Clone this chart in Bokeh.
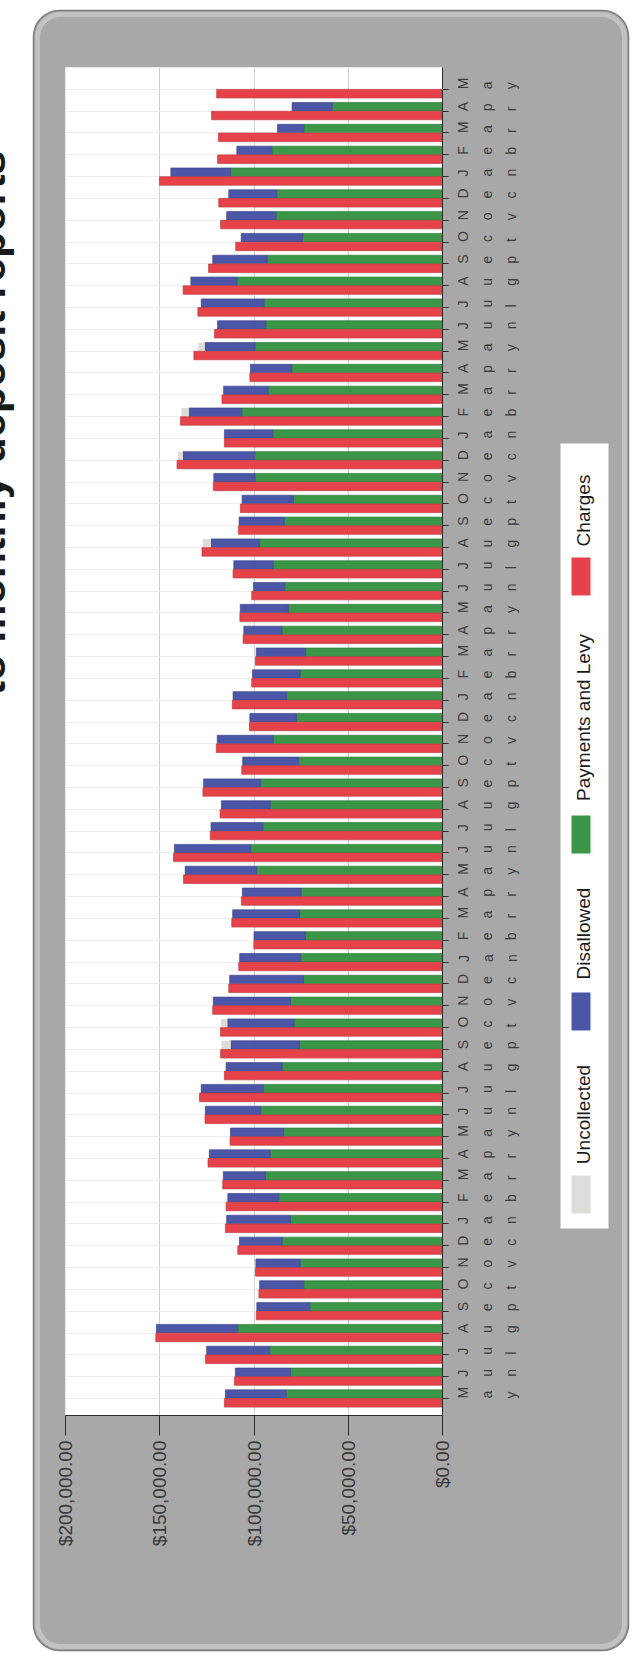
import numpy as np
from math import pi
from bokeh.plotting import figure
from bokeh.models import Range1d, FixedTicker, NumeralTickFormatter
from bokeh.core.properties import value
from bokeh.embed import file_html
from bokeh.resources import INLINE

# ---------------- data ----------------
months = ["May", "Jun", "Jul", "Aug", "Sep", "Oct", "Nov", "Dec", "Jan", "Feb", "Mar", "Apr"] * 5 + ["May"]

charges = [115700, 110400, 125800, 152100, 98800, 97400, 99200, 108600, 115200, 114800, 116600, 124400,
           112700, 126000, 128900, 115700, 117700, 117800, 121900, 113400, 108100, 100100, 111800, 106700,
           137400, 142700, 123200, 118000, 127100, 106500, 120000, 102400, 111500, 101200, 99200, 105800,
           107500, 101200, 111100, 127600, 108300, 107200, 121600, 140800, 115700, 139000, 117000, 102200,
           131900, 121000, 129800, 137600, 124100, 109700, 117700, 118700, 150200, 119300, 118900, 122500,
           119800]

payments = [82900, 80700, 91700, 108600, 70400, 73600, 75400, 85000, 80700, 86800, 93900, 91400,
            84300, 96400, 95100, 85000, 75900, 78800, 80700, 73800, 75200, 72700, 75800, 75000,
            98700, 101700, 95300, 91400, 96500, 76300, 89800, 77500, 82700, 75600, 72600, 85200,
            81800, 83700, 89800, 97100, 83900, 79100, 99400, 99600, 90000, 106500, 92500, 80000,
            99400, 93700, 94600, 109000, 93000, 74200, 88400, 88000, 112500, 90500, 73600, 58500,
            0]

disallowed = [32300, 29200, 33400, 43200, 28100, 23400, 23600, 22700, 33800, 27100, 22400, 32300,
              28200, 29400, 32900, 29800, 36400, 35300, 40900, 39100, 32400, 27300, 35500, 31200,
              37800, 40500, 27500, 25900, 30200, 29700, 29700, 24700, 28400, 25200, 26200, 20200,
              25500, 16600, 20900, 25700, 24000, 27200, 21900, 38100, 25700, 28000, 23600, 21900,
              26600, 25600, 33400, 24500, 28900, 32600, 26100, 25400, 31600, 18600, 13900, 21300,
              0]

uncollected = [0, 0, 0, 0, 0, 0, 0, 0, 0, 0, 0, 0,
               0, 0, 0, 0, 5000, 3400, 0, 0, 0, 0, 0, 0,
               0, 0, 0, 0, 0, 0, 0, 0, 0, 0, 0, 0,
               0, 0, 0, 4400, 0, 0, 0, 2700, 0, 4000, 0, 0,
               3600, 0, 0, 0, 0, 0, 0, 0, 0, 0, 0, 0,
               0]

value_ticks = [0, 50000, 100000, 150000, 200000]
legend_labels = ["Uncollected", "Disallowed", "Payments and Levy", "Charges"]
title_text = "to monthly deposit reports"

# ---------------- colours ----------------
C_RED, C_RED_L = "#e5424a", "#c23c40"
C_GRN, C_GRN_L = "#3b9747", "#327f3c"
C_BLU, C_BLU_L = "#4c56a6", "#3f488c"
C_UNC = "#dcdcd8"
PANEL = "#a8a8a8"

# ---------------- geometry (canvas pixels) ----------------
W, H = 637, 1659
FL, FR, FT, FB = 65, 442, 67, 1415
X0, X1 = 200000, 0
Y0, Y1 = -0.78, 61.0


def X(cx):
    return X0 + (cx - FL) * (X1 - X0) / (FR - FL)


def Y(cy):
    return Y1 - (cy - FT) * (Y1 - Y0) / (FB - FT)


p = figure(width=W, height=H, x_range=Range1d(X0, X1), y_range=Range1d(Y0, Y1),
           output_backend="svg", toolbar_location=None,
           x_axis_location="below", y_axis_location="right",
           min_border_left=FL, min_border_right=W - FR, min_border_top=FT, min_border_bottom=H - FB)
p.background_fill_color = "white"
p.border_fill_color = PANEL
p.outline_line_color = None

idx = np.arange(len(months))
pay = np.array(payments, float)
dis = np.array(disallowed, float)
unc = np.array(uncollected, float)
chg = np.array(charges, float)

BH = 0.39
ys = idx + 0.2
yr = idx - 0.2

has = pay > 0
p.hbar(y=ys[has], left=0, right=pay[has], height=BH, fill_color=C_GRN, line_color=C_GRN_L, line_width=0.7)
p.hbar(y=ys[has], left=pay[has], right=(pay + dis)[has], height=BH, fill_color=C_BLU, line_color=C_BLU_L, line_width=0.7)
hu = unc > 0
p.hbar(y=ys[hu], left=(pay + dis)[hu], right=(pay + dis + unc)[hu], height=BH, fill_color=C_UNC, line_color=None)
p.hbar(y=yr, left=0, right=chg, height=BH, fill_color=C_RED, line_color=C_RED_L, line_width=0.7)

# ---------------- axes & grid ----------------
xa = p.xaxis[0]
xa.ticker = FixedTicker(ticks=value_ticks)
xa.formatter = NumeralTickFormatter(format="$0,0.00")
xa.major_label_orientation = pi / 2
xa.major_tick_out = 20
xa.major_tick_in = 0
xa.minor_tick_out = 0
xa.minor_tick_in = 0
xa.major_label_standoff = 5
xa.major_label_text_font = "Liberation Sans"
xa.major_label_text_font_size = "19px"
xa.major_label_text_color = "#3a3a3a"
xa.axis_line_color = "#2a2a2a"
xa.major_tick_line_color = "#2a2a2a"

ya = p.yaxis[0]
ya.ticker = FixedTicker(ticks=list(idx))
ya.major_label_overrides = {int(i): "\n".join(m) for i, m in zip(idx, months)}
ya.major_label_orientation = pi / 2
ya.major_label_text_line_height = 1.5
ya.major_label_text_font = "Liberation Sans"
ya.major_label_text_font_size = "14px"
ya.major_label_text_color = "#3a3a3a"
ya.major_tick_out = 6
ya.major_tick_in = 0
ya.minor_tick_out = 0
ya.minor_tick_in = 0
ya.major_label_standoff = 39
ya.axis_line_color = "#2a2a2a"
ya.major_tick_line_color = "#2a2a2a"

p.xgrid.ticker = FixedTicker(ticks=value_ticks)
p.xgrid.grid_line_color = "#d2d2d2"
p.ygrid.ticker = FixedTicker(ticks=list(idx))
p.ygrid.grid_line_color = "#ededed"

# ---------------- panel mask (outside the rounded grey panel) ----------------
def rounded(x0, y0, x1, y1, r, n=12):
    pts = []
    for cx, cy, a0, a1 in [(x1 - r, y0 + r, -90, 0), (x1 - r, y1 - r, 0, 90),
                           (x0 + r, y1 - r, 90, 180), (x0 + r, y0 + r, 180, 270)]:
        for a in np.linspace(np.radians(a0), np.radians(a1), n):
            pts.append((cx + r * np.cos(a), cy + r * np.sin(a)))
    return pts

ring = rounded(33, 10, 628, 1650, 26)
hx = [X(a) for a, b in ring]
hy = [Y(b) for a, b in ring]
ox = [X(-10), X(W + 10), X(W + 10), X(-10)]
oy = [Y(-10), Y(-10), Y(H + 10), Y(H + 10)]
p.multi_polygons(xs=[[[ox, hx]]], ys=[[[oy, hy]]], fill_color="white", line_color=None, level="overlay")

inner = rounded(37, 14, 624, 1646, 23)
p.line(x=[X(a) for a, b in inner] + [X(inner[0][0])], y=[Y(b) for a, b in inner] + [Y(inner[0][1])],
       line_color="#c2c2c2", line_width=5, level="overlay")
p.line(x=hx + [hx[0]], y=hy + [hy[0]], line_color="#7e7e7e", line_width=1.5, level="overlay")

# ---------------- legend ----------------
p.quad(left=X(560), right=X(608), top=Y(443), bottom=Y(1228), fill_color="white", line_color=None, level="overlay")
sw_y = [1175, 992, 815, 557]
txt_y = [1114, 933, 717, 510]
sw_c = [C_UNC, C_BLU, C_GRN, C_RED]
for lab, sy, ty, c in zip(legend_labels, sw_y, txt_y, sw_c):
    p.quad(left=X(571), right=X(590), top=Y(sy), bottom=Y(sy + 38), fill_color=c, line_color=None, level="overlay")
    p.text(x=[X(583)], y=[Y(ty)], text=[lab], angle=pi / 2, text_align="center", text_baseline="middle",
           text_font=value("Liberation Sans"), text_font_size="19px", text_color="#1a1a1a", level="overlay")

# ---------------- title (cut off by the page edge, as in the scan) ----------------
p.text(x=[X(-11)], y=[Y(150)], text=[title_text], angle=pi / 2, text_align="right", text_baseline="alphabetic",
       text_font=value("Liberation Sans"), text_font_style="bold", text_font_size="43px", text_color="#1a1a1a",
       level="overlay")

open("out.html", "w").write(file_html(p, INLINE))
